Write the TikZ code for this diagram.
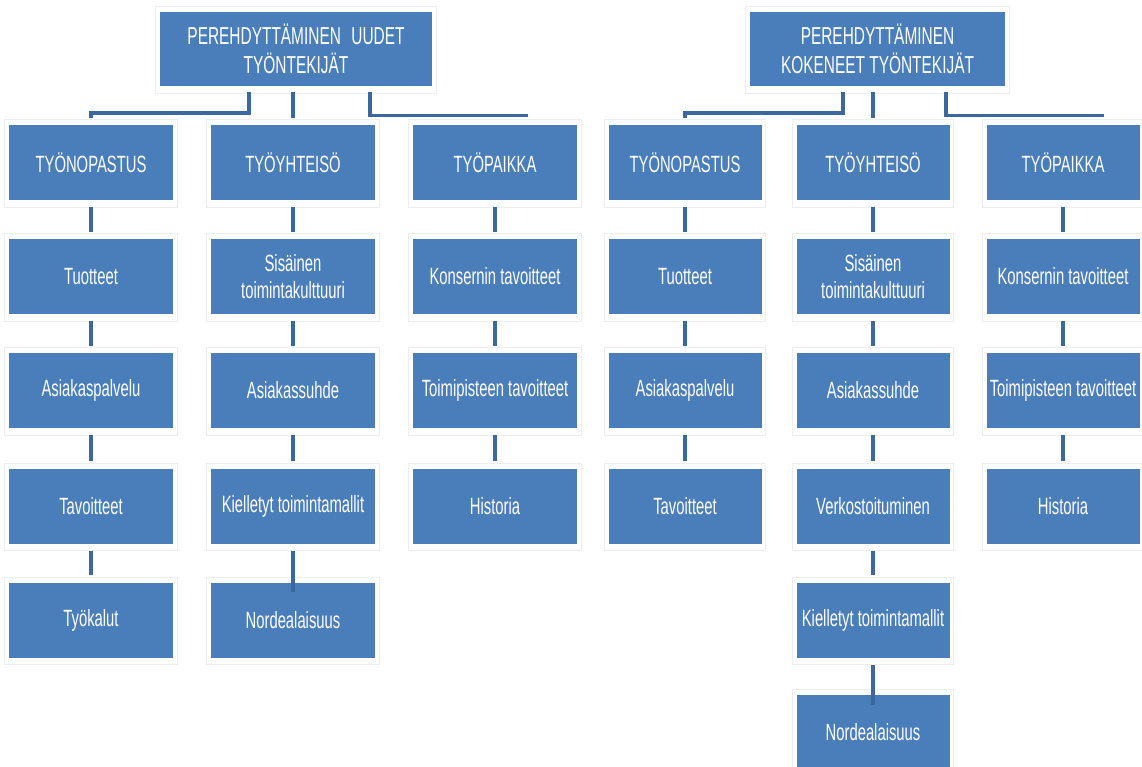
\documentclass[tikz,border=0pt]{standalone}
\usepackage{fontspec}
\setmainfont{Liberation Sans}[FakeStretch=0.63]
\definecolor{boxblue}{RGB}{74,126,187}
\definecolor{linkblue}{RGB}{60,104,160}
\definecolor{rim}{RGB}{238,238,238}
\begin{document}
\begin{tikzpicture}[x=1pt,y=-1pt,
  box/.style={fill=boxblue, text=white, inner sep=0pt, align=center,
              font=\fontsize{23.5}{27}\selectfont},
  colL/.style={box, minimum width=164pt, minimum height=75pt},
  colR/.style={box, minimum width=153pt, minimum height=75pt},
  headbox/.style={box, minimum height=74pt, font=\fontsize{24.5}{29}\selectfont},
  link/.style={draw=linkblue, line width=3.5pt},
  rimline/.style={draw=rim, line width=1pt}]
\useasboundingbox (0,0) rectangle (1142,767);

% --- headings
\node[headbox, minimum width=272pt] (tl) at (296,49) {PEREHDYTTÄMINEN\hspace{0.25em} UUDET\\TYÖNTEKIJÄT};
\node[headbox, minimum width=255pt] (tr) at (877.5,49) {PEREHDYTTÄMINEN\\KOKENEET TYÖNTEKIJÄT};

% --- first tree
\node[colL] (a1) at (91,162.5) {TYÖNOPASTUS};
\node[colL] (a2) at (91,276.5) {Tuotteet};
\node[colL] (a3) at (91,390.5) {Asiakaspalvelu};
\node[colL] (a4) at (91,506) {Tavoitteet};
\node[colL] (a5) at (91,620) {Työkalut};

\node[colL] (b1) at (293,162.5) {TYÖYHTEISÖ};
\node[colL] (b2) at (293,276.5) {Sisäinen\\toimintakulttuuri};
\node[colL] (b3) at (293,390.5) {Asiakassuhde};
\node[colL] (b4) at (293,506) {Kielletyt toimintamallit};
\node[colL] (b5) at (293,620) {Nordealaisuus};

\node[colL] (c1) at (495,162.5) {TYÖPAIKKA};
\node[colL] (c2) at (495,276.5) {Konsernin tavoitteet};
\node[colL] (c3) at (495,390.5) {Toimipisteen tavoitteet};
\node[colL] (c4) at (495,506) {Historia};

% --- second tree
\node[colR] (d1) at (685,162.5) {TYÖNOPASTUS};
\node[colR] (d2) at (685,276.5) {Tuotteet};
\node[colR] (d3) at (685,390.5) {Asiakaspalvelu};
\node[colR] (d4) at (685,506) {Tavoitteet};

\node[colR] (e1) at (873,162.5) {TYÖYHTEISÖ};
\node[colR] (e2) at (873,276.5) {Sisäinen\\toimintakulttuuri};
\node[colR] (e3) at (873,390.5) {Asiakassuhde};
\node[colR] (e4) at (873,506) {Verkostoituminen};
\node[colR] (e5) at (873,620) {Kielletyt toimintamallit};
\node[colR] (e6) at (873,732.5) {Nordealaisuus};

\node[colR] (f1) at (1063,162.5) {TYÖPAIKKA};
\node[colR] (f2) at (1063,276.5) {Konsernin tavoitteet};
\node[colR] (f3) at (1063,390.5) {Toimipisteen tavoitteet};
\node[colR] (f4) at (1063,506) {Historia};

% --- pale rims around every box
\foreach \n in {tl,tr,a1,a2,a3,a4,a5,b1,b2,b3,b4,b5,c1,c2,c3,c4,
                d1,d2,d3,d4,e1,e2,e3,e4,e5,e6,f1,f2,f3,f4}
  \draw[rimline] ([shift={(-4pt,5pt)}]\n.north west) rectangle ([shift={(4pt,-7pt)}]\n.south east);

% --- branch connectors from the headings
\coordinate (endl) at (528,115.5);
\coordinate (endr) at (1104,115.5);
\draw[link] ([xshift=-47pt,yshift=-6pt]tl.south) -- ++(0,21) -| ([yshift=7pt]a1.north);
\draw[link] ([yshift=-6pt]tl.south -| b1.north) -- ([yshift=7pt]b1.north);
\draw[link] ([xshift=74pt,yshift=-6pt]tl.south) |- (endl);

\draw[link] ([xshift=-34.5pt,yshift=-6pt]tr.south) -- ++(0,21) -| ([yshift=7pt]d1.north);
\draw[link] ([yshift=-6pt]tr.south -| e1.north) -- ([yshift=7pt]e1.north);
\draw[link] ([xshift=68.5pt,yshift=-6pt]tr.south) |- (endr);

% --- column connectors
\foreach \u/\v in {a1/a2,a2/a3,a3/a4,a4/a5,b1/b2,b2/b3,b3/b4,c1/c2,c2/c3,c3/c4,
                   d1/d2,d2/d3,d3/d4,e1/e2,e2/e3,e3/e4,e4/e5,f1/f2,f2/f3,f3/f4}
  \draw[link] ([yshift=-7pt]\u.south) -- ([yshift=7pt]\v.north);
\draw[link] ([yshift=-7pt]b4.south) -- ([yshift=-10pt]b5.north);
\draw[link] ([yshift=-7pt]e5.south) -- ([yshift=-10pt]e6.north);
\end{tikzpicture}
\end{document}
